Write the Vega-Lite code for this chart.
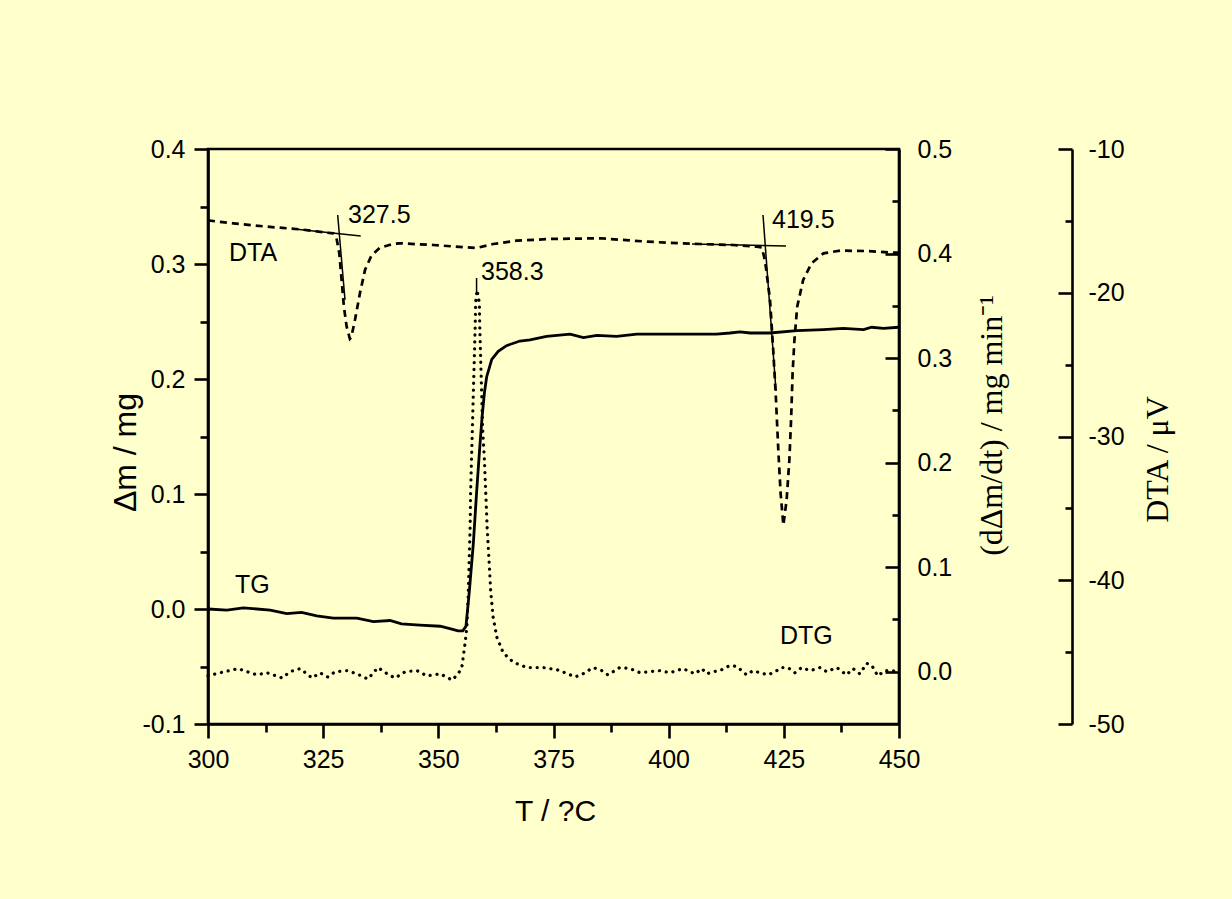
{
  "$schema": "https://vega.github.io/schema/vega-lite/v6.json",
  "width": 691,
  "height": 575,
  "autosize": {"type": "none"},
  "padding": {"left": 208, "top": 149, "right": 333, "bottom": 175},
  "background": "#FFFFCC",
  "config": {
    "view": {"stroke": "black", "strokeWidth": 2.6},
    "font": "Liberation Sans",
    "axis": {
      "grid": false,
      "domainColor": "black",
      "domainWidth": 2.6,
      "tickColor": "black",
      "tickWidth": 2.6,
      "labelColor": "black",
      "labelFont": "Liberation Sans",
      "labelFontSize": 25,
      "labelOverlap": false,
      "labelBound": false,
      "labelFlush": false,
      "titleColor": "black",
      "titleFontWeight": "normal"
    }
  },
  "datasets": {
    "tg": [
      {"T": 300.0, "v": 0.000}, {"T": 304.1, "v": -0.001}, {"T": 307.7, "v": 0.001}, {"T": 313.5, "v": -0.001},
      {"T": 317.1, "v": -0.004}, {"T": 320.3, "v": -0.003}, {"T": 323.6, "v": -0.006}, {"T": 327.2, "v": -0.008},
      {"T": 332.3, "v": -0.008}, {"T": 335.9, "v": -0.011}, {"T": 339.5, "v": -0.010}, {"T": 342.0, "v": -0.013},
      {"T": 346.0, "v": -0.014}, {"T": 350.4, "v": -0.015}, {"T": 352.5, "v": -0.017}, {"T": 354.3, "v": -0.019},
      {"T": 355.3, "v": -0.019}, {"T": 356.0, "v": -0.015}, {"T": 356.7, "v": 0.014}, {"T": 357.6, "v": 0.057},
      {"T": 358.3, "v": 0.101}, {"T": 359.0, "v": 0.141}, {"T": 359.5, "v": 0.167}, {"T": 360.0, "v": 0.188},
      {"T": 360.5, "v": 0.202}, {"T": 361.6, "v": 0.217}, {"T": 363.0, "v": 0.224}, {"T": 364.8, "v": 0.229},
      {"T": 367.7, "v": 0.233}, {"T": 369.9, "v": 0.234}, {"T": 373.5, "v": 0.237}, {"T": 378.6, "v": 0.239},
      {"T": 381.5, "v": 0.236}, {"T": 384.4, "v": 0.238}, {"T": 388.7, "v": 0.237}, {"T": 393.1, "v": 0.239},
      {"T": 398.8, "v": 0.239}, {"T": 404.6, "v": 0.239}, {"T": 410.4, "v": 0.239}, {"T": 413.3, "v": 0.240},
      {"T": 415.5, "v": 0.241}, {"T": 417.7, "v": 0.240}, {"T": 422.0, "v": 0.240}, {"T": 427.8, "v": 0.242},
      {"T": 433.6, "v": 0.243}, {"T": 437.9, "v": 0.244}, {"T": 442.3, "v": 0.243}, {"T": 444.1, "v": 0.245},
      {"T": 446.6, "v": 0.244}, {"T": 450.0, "v": 0.245}
    ],
    "dtg": [
      {"T": 300.0, "v": -0.004}, {"T": 302.6, "v": -0.001}, {"T": 306.5, "v": 0.003}, {"T": 308.5, "v": 0.000},
      {"T": 310.6, "v": -0.003}, {"T": 312.8, "v": -0.001}, {"T": 316.1, "v": -0.006}, {"T": 317.8, "v": 0.000},
      {"T": 320.0, "v": 0.003}, {"T": 322.6, "v": -0.006}, {"T": 324.3, "v": -0.001}, {"T": 326.0, "v": -0.005},
      {"T": 327.6, "v": 0.000}, {"T": 330.2, "v": 0.001}, {"T": 332.3, "v": -0.002}, {"T": 334.7, "v": -0.007},
      {"T": 336.9, "v": 0.004}, {"T": 338.9, "v": -0.002}, {"T": 340.6, "v": -0.006}, {"T": 342.8, "v": 0.000},
      {"T": 345.4, "v": 0.001}, {"T": 347.5, "v": -0.004}, {"T": 350.4, "v": -0.002}, {"T": 353.0, "v": -0.008},
      {"T": 354.3, "v": -0.002}, {"T": 355.1, "v": 0.004}, {"T": 355.8, "v": 0.027}, {"T": 356.2, "v": 0.043},
      {"T": 356.5, "v": 0.075}, {"T": 356.7, "v": 0.107}, {"T": 356.9, "v": 0.138}, {"T": 357.0, "v": 0.171},
      {"T": 357.2, "v": 0.203}, {"T": 357.4, "v": 0.234}, {"T": 357.6, "v": 0.267}, {"T": 357.8, "v": 0.298},
      {"T": 358.0, "v": 0.330}, {"T": 358.1, "v": 0.353}, {"T": 358.4, "v": 0.365}, {"T": 358.9, "v": 0.353},
      {"T": 359.0, "v": 0.330}, {"T": 359.2, "v": 0.298}, {"T": 359.4, "v": 0.267}, {"T": 359.6, "v": 0.234},
      {"T": 360.0, "v": 0.203}, {"T": 360.3, "v": 0.171}, {"T": 360.6, "v": 0.138}, {"T": 361.0, "v": 0.107},
      {"T": 361.4, "v": 0.075}, {"T": 361.9, "v": 0.052}, {"T": 362.7, "v": 0.033}, {"T": 364.1, "v": 0.018},
      {"T": 366.3, "v": 0.009}, {"T": 369.2, "v": 0.004}, {"T": 372.7, "v": 0.004}, {"T": 375.7, "v": 0.002},
      {"T": 377.5, "v": -0.001}, {"T": 379.7, "v": -0.005}, {"T": 381.4, "v": -0.002}, {"T": 383.6, "v": 0.004},
      {"T": 385.5, "v": 0.001}, {"T": 386.8, "v": -0.003}, {"T": 389.4, "v": 0.004}, {"T": 391.6, "v": 0.003},
      {"T": 393.8, "v": -0.001}, {"T": 395.9, "v": 0.000}, {"T": 398.1, "v": 0.001}, {"T": 400.3, "v": -0.001},
      {"T": 403.1, "v": 0.003}, {"T": 405.7, "v": -0.002}, {"T": 407.2, "v": 0.003}, {"T": 408.3, "v": -0.002},
      {"T": 409.6, "v": 0.000}, {"T": 411.1, "v": 0.001}, {"T": 413.3, "v": 0.006}, {"T": 414.8, "v": 0.005},
      {"T": 416.9, "v": -0.003}, {"T": 418.3, "v": 0.001}, {"T": 419.8, "v": -0.001}, {"T": 421.6, "v": -0.003},
      {"T": 423.1, "v": 0.000}, {"T": 424.5, "v": 0.004}, {"T": 425.9, "v": 0.004}, {"T": 427.4, "v": -0.001},
      {"T": 428.9, "v": 0.004}, {"T": 430.7, "v": 0.001}, {"T": 432.9, "v": 0.004}, {"T": 434.3, "v": 0.000},
      {"T": 436.5, "v": 0.004}, {"T": 438.6, "v": -0.003}, {"T": 440.0, "v": 0.003}, {"T": 441.5, "v": -0.002},
      {"T": 443.0, "v": 0.008}, {"T": 444.1, "v": 0.006}, {"T": 445.4, "v": -0.004}, {"T": 446.9, "v": 0.001},
      {"T": 448.4, "v": 0.001}, {"T": 450.0, "v": 0.000}
    ],
    "dta": [
      {"T": 300.0, "v": -14.97}, {"T": 305.5, "v": -15.17}, {"T": 312.7, "v": -15.40}, {"T": 320.0, "v": -15.59},
      {"T": 325.8, "v": -15.82}, {"T": 327.2, "v": -15.87}, {"T": 327.9, "v": -16.21}, {"T": 328.5, "v": -17.26},
      {"T": 329.0, "v": -19.10}, {"T": 329.5, "v": -20.97}, {"T": 330.1, "v": -22.36}, {"T": 330.8, "v": -23.20},
      {"T": 331.1, "v": -23.10}, {"T": 331.9, "v": -21.90}, {"T": 333.0, "v": -20.00}, {"T": 334.1, "v": -18.40},
      {"T": 335.5, "v": -17.40}, {"T": 337.3, "v": -16.87}, {"T": 340.2, "v": -16.60}, {"T": 341.7, "v": -16.56},
      {"T": 348.9, "v": -16.68}, {"T": 356.2, "v": -16.84}, {"T": 358.3, "v": -16.89}, {"T": 361.9, "v": -16.61},
      {"T": 367.0, "v": -16.38}, {"T": 374.2, "v": -16.26}, {"T": 385.1, "v": -16.21}, {"T": 392.3, "v": -16.38},
      {"T": 399.6, "v": -16.52}, {"T": 406.8, "v": -16.61}, {"T": 414.0, "v": -16.68}, {"T": 419.1, "v": -16.80},
      {"T": 420.2, "v": -16.85}, {"T": 420.9, "v": -17.72}, {"T": 422.0, "v": -20.50}, {"T": 422.7, "v": -23.98},
      {"T": 423.3, "v": -27.46}, {"T": 423.8, "v": -30.94}, {"T": 424.3, "v": -33.95}, {"T": 424.9, "v": -36.16},
      {"T": 425.6, "v": -34.42}, {"T": 426.2, "v": -31.64}, {"T": 426.6, "v": -28.62}, {"T": 426.9, "v": -25.61},
      {"T": 427.3, "v": -23.29}, {"T": 427.9, "v": -20.97}, {"T": 429.2, "v": -19.11}, {"T": 431.0, "v": -17.95},
      {"T": 433.6, "v": -17.26}, {"T": 437.2, "v": -17.07}, {"T": 443.0, "v": -17.10}, {"T": 448.8, "v": -17.21},
      {"T": 450.0, "v": -17.21}
    ],
    "tangents": [
      {"seg": "a", "T": 319.3, "v": -15.59}, {"seg": "a", "T": 333.15, "v": -16.05},
      {"seg": "b", "T": 328.15, "v": -14.59}, {"seg": "b", "T": 329.74, "v": -20.50},
      {"seg": "c", "T": 405.06, "v": -16.61}, {"seg": "c", "T": 425.47, "v": -16.75},
      {"seg": "d", "T": 420.48, "v": -14.59}, {"seg": "d", "T": 423.30, "v": -26.83}
    ],
    "peakmark": [
      {"T": 358.3, "v": 0.3766}, {"T": 358.3, "v": 0.3632}
    ],
    "notes": [
      {"label": "327.5", "T": 330.39, "v": 0.3426},
      {"label": "419.5", "T": 422.43, "v": 0.3383},
      {"label": "358.3", "T": 359.26, "v": 0.2930},
      {"label": "DTA", "T": 304.56, "v": 0.3096},
      {"label": "TG", "T": 305.86, "v": 0.0209},
      {"label": "DTG", "T": 424.17, "v": -0.0235}
    ]
  },
  "layer": [
    {
      "data": {"name": "tg"},
      "mark": {"type": "line", "color": "black", "strokeWidth": 2.8},
      "encoding": {
        "x": {
          "field": "T", "type": "quantitative",
          "scale": {"domain": [300, 450], "nice": false, "zero": false},
          "axis": {
            "orient": "bottom",
            "values": [300, 325, 350, 375, 400, 425, 450],
            "tickSize": 14,
            "labelExpr": "'' + datum.value",
            "labelPadding": 9,
            "title": "T / ?C",
            "titleFont": "Liberation Sans",
            "titleFontSize": 30,
            "titleAngle": 0,
            "titleAlign": "center",
            "titleBaseline": "alphabetic",
            "titleX": 347,
            "titleY": 96
          }
        },
        "y": {
          "field": "v", "type": "quantitative",
          "scale": {"domain": [-0.1, 0.4], "nice": false, "zero": false},
          "axis": {
            "orient": "left",
            "values": [-0.1, 0, 0.1, 0.2, 0.3, 0.4],
            "tickSize": 14,
            "labelExpr": "datum.value == 0 ? '0.0' : '' + datum.value",
            "labelPadding": 9,
            "title": "Δm / mg",
            "titleFont": "Liberation Sans",
            "titleFontSize": 32,
            "titleAngle": 270,
            "titleAlign": "center",
            "titleBaseline": "alphabetic",
            "titleX": -73,
            "titleY": 303
          }
        }
      }
    },
    {
      "data": {"name": "notes"},
      "mark": {"type": "text", "align": "left", "baseline": "middle", "font": "Liberation Sans", "fontSize": 25, "color": "black"},
      "encoding": {
        "x": {
          "field": "T", "type": "quantitative",
          "scale": {"domain": [300, 450], "nice": false, "zero": false},
          "axis": {"orient": "bottom", "values": [312.5, 337.5, 362.5, 387.5, 412.5, 437.5], "tickSize": 8, "labels": false, "domain": false, "title": null}
        },
        "y": {
          "field": "v", "type": "quantitative",
          "scale": {"domain": [-0.1, 0.4], "nice": false, "zero": false},
          "axis": {"orient": "left", "values": [-0.05, 0.05, 0.15, 0.25, 0.35], "tickSize": 8, "labels": false, "domain": false, "title": null}
        },
        "text": {"field": "label"}
      }
    },
    {
      "data": {"name": "dtg"},
      "mark": {"type": "line", "color": "black", "strokeWidth": 3.2, "strokeCap": "round", "strokeDash": [0.1, 6.8]},
      "encoding": {
        "x": {"field": "T", "type": "quantitative", "scale": {"domain": [300, 450], "nice": false, "zero": false}, "axis": null},
        "y": {
          "field": "v", "type": "quantitative",
          "scale": {"domain": [-0.05, 0.5], "nice": false, "zero": false},
          "axis": {
            "orient": "right",
            "values": [0, 0.1, 0.2, 0.3, 0.4, 0.5],
            "tickSize": -14,
            "labelExpr": "datum.value == 0 ? '0.0' : '' + datum.value",
            "labelPadding": 32,
            "title": "(dΔm/dt) / mg min⁻¹",
            "titleFont": "Liberation Serif",
            "titleFontSize": 32,
            "titleAngle": 270,
            "titleAlign": "center",
            "titleBaseline": "alphabetic",
            "titleX": 102,
            "titleY": 276
          }
        }
      }
    },
    {
      "data": {"name": "peakmark"},
      "mark": {"type": "line", "color": "black", "strokeWidth": 1.5},
      "encoding": {
        "x": {"field": "T", "type": "quantitative", "scale": {"domain": [300, 450], "nice": false, "zero": false}, "axis": null},
        "y": {
          "field": "v", "type": "quantitative",
          "scale": {"domain": [-0.05, 0.5], "nice": false, "zero": false},
          "axis": {"orient": "right", "values": [0.05, 0.15, 0.25, 0.35, 0.45], "tickSize": -7, "labels": false, "domain": false, "title": null}
        }
      }
    },
    {
      "data": {"name": "dta"},
      "mark": {"type": "line", "color": "black", "strokeWidth": 2.7, "strokeDash": [7, 5]},
      "encoding": {
        "x": {"field": "T", "type": "quantitative", "scale": {"domain": [300, 450], "nice": false, "zero": false}, "axis": null},
        "y": {
          "field": "v", "type": "quantitative",
          "scale": {"domain": [-50, -10], "nice": false, "zero": false},
          "axis": {
            "orient": "right",
            "offset": 173,
            "values": [-50, -40, -30, -20, -10],
            "tickSize": -14,
            "labelExpr": "'' + datum.value",
            "labelPadding": 30,
            "title": "DTA / μV",
            "titleFont": "Liberation Serif",
            "titleFontSize": 32,
            "titleAngle": 270,
            "titleAlign": "center",
            "titleBaseline": "alphabetic",
            "titleX": 95,
            "titleY": 310
          }
        }
      }
    },
    {
      "data": {"name": "tangents"},
      "mark": {"type": "line", "color": "black", "strokeWidth": 1.5},
      "encoding": {
        "x": {"field": "T", "type": "quantitative", "scale": {"domain": [300, 450], "nice": false, "zero": false}, "axis": null},
        "y": {
          "field": "v", "type": "quantitative",
          "scale": {"domain": [-50, -10], "nice": false, "zero": false},
          "axis": {"orient": "right", "offset": 173, "values": [-45, -35, -25, -15], "tickSize": -7, "labels": false, "domain": false, "title": null}
        },
        "detail": {"field": "seg"}
      }
    }
  ],
  "resolve": {
    "scale": {"y": "independent"},
    "axis": {"x": "independent", "y": "independent"}
  }
}
